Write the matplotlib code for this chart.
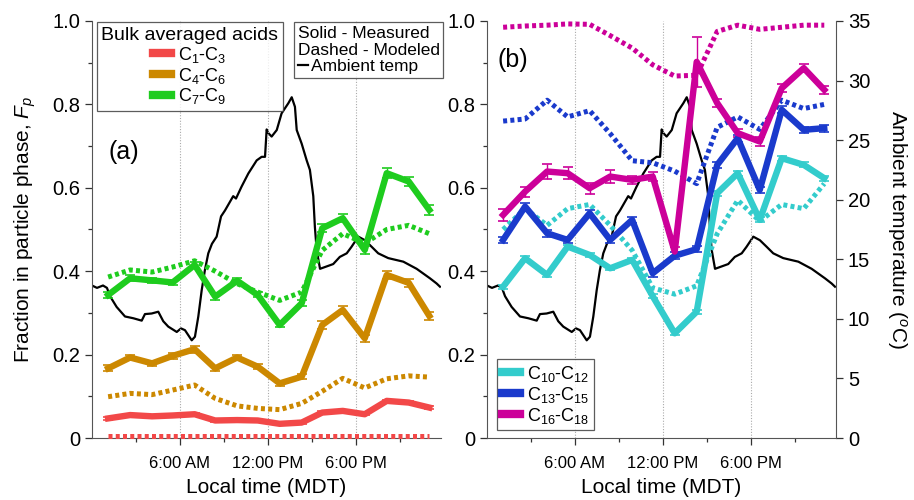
import matplotlib
matplotlib.use("Agg")
import matplotlib.pyplot as plt
from matplotlib.lines import Line2D
from matplotlib.ticker import MultipleLocator, FixedLocator

plt.rcParams['font.family'] = ['Liberation Sans', 'DejaVu Sans']
plt.rcParams['mathtext.fontset'] = 'custom'
plt.rcParams['mathtext.rm'] = 'Liberation Sans'
plt.rcParams['mathtext.it'] = 'Liberation Sans:italic'

# sample times, hours after midnight (MDT)
hours = [1.1, 2.6, 4.1, 5.5, 7.0, 8.4, 9.9, 11.3, 12.8, 14.3, 15.7, 17.1, 18.6, 20.1, 21.6, 23.0]

# panel (a) - bulk averaged acids, measured / modeled Fp
c1_meas = [0.047, 0.055, 0.052, 0.054, 0.057, 0.042, 0.043, 0.042, 0.034, 0.037, 0.061, 0.065, 0.057, 0.089, 0.085, 0.073]
c1_err = [0.003, 0.003, 0.003, 0.003, 0.003, 0.003, 0.003, 0.003, 0.003, 0.003, 0.003, 0.003, 0.003, 0.003, 0.003, 0.003]
c1_model = [0.005, 0.005, 0.005, 0.005, 0.005, 0.005, 0.005, 0.005, 0.005, 0.005, 0.005, 0.005, 0.005, 0.005, 0.005, 0.005]

c4_meas = [0.167, 0.193, 0.179, 0.197, 0.213, 0.167, 0.193, 0.171, 0.131, 0.147, 0.271, 0.307, 0.239, 0.391, 0.372, 0.293]
c4_err = [0.007, 0.007, 0.006, 0.007, 0.008, 0.006, 0.007, 0.006, 0.006, 0.006, 0.009, 0.010, 0.008, 0.010, 0.009, 0.010]
c4_model = [0.099, 0.107, 0.104, 0.115, 0.127, 0.095, 0.077, 0.071, 0.068, 0.083, 0.112, 0.143, 0.120, 0.142, 0.149, 0.146]

c7_meas = [0.343, 0.383, 0.378, 0.373, 0.415, 0.339, 0.377, 0.343, 0.271, 0.323, 0.503, 0.527, 0.451, 0.635, 0.615, 0.547]
c7_err = [0.008, 0.007, 0.006, 0.006, 0.008, 0.007, 0.006, 0.006, 0.006, 0.007, 0.010, 0.010, 0.009, 0.012, 0.010, 0.012]
c7_model = [0.386, 0.403, 0.398, 0.410, 0.425, 0.400, 0.370, 0.350, 0.330, 0.350, 0.450, 0.490, 0.467, 0.500, 0.510, 0.490]

# panel (b) - individual acids
c10_meas = [0.363, 0.431, 0.391, 0.459, 0.439, 0.407, 0.427, 0.340, 0.251, 0.303, 0.587, 0.635, 0.523, 0.671, 0.655, 0.623]
c10_err = [0.005, 0.005, 0.005, 0.005, 0.005, 0.005, 0.005, 0.005, 0.005, 0.005, 0.006, 0.006, 0.006, 0.006, 0.006, 0.006]
c10_model = [0.500, 0.550, 0.510, 0.550, 0.560, 0.510, 0.450, 0.360, 0.345, 0.365, 0.490, 0.570, 0.520, 0.560, 0.550, 0.610]

c13_meas = [0.475, 0.555, 0.491, 0.475, 0.539, 0.475, 0.523, 0.395, 0.437, 0.453, 0.655, 0.719, 0.595, 0.787, 0.739, 0.743]
c13_err = [0.008, 0.008, 0.008, 0.008, 0.008, 0.008, 0.008, 0.008, 0.008, 0.008, 0.008, 0.008, 0.008, 0.008, 0.008, 0.008]
c13_model = [0.760, 0.765, 0.810, 0.770, 0.785, 0.730, 0.665, 0.660, 0.640, 0.610, 0.745, 0.770, 0.740, 0.810, 0.790, 0.800]

c16_meas = [0.535, 0.591, 0.639, 0.635, 0.599, 0.627, 0.619, 0.627, 0.447, 0.902, 0.803, 0.731, 0.711, 0.839, 0.887, 0.835]
c16_err = [0.015, 0.012, 0.018, 0.015, 0.013, 0.015, 0.010, 0.010, 0.010, 0.060, 0.010, 0.010, 0.010, 0.010, 0.010, 0.010]
c16_model = [0.985, 0.988, 0.990, 0.993, 0.992, 0.965, 0.935, 0.895, 0.868, 0.870, 0.975, 0.990, 0.980, 0.985, 0.990, 0.990]

# ambient temperature trace (deg C)
temp_hours = [0.0, 0.34, 0.75, 1.02, 1.23, 1.68, 2.25, 2.82, 3.39, 3.61, 4.07, 4.52, 4.86, 5.2, 5.78,
              6.07, 6.34, 6.8, 7.02, 7.25, 7.48, 7.7, 7.93, 8.18, 8.5, 8.8, 9.07, 9.63, 9.82, 10.2,
              10.66, 11.23, 11.57, 11.8, 11.91, 12.02, 12.25, 12.6, 12.93, 13.39, 13.62, 13.84, 13.96,
              14.3, 14.64, 14.86, 15.09, 15.2, 15.32, 15.55, 16.0, 16.45, 16.9, 17.37, 17.7, 18.16,
              18.61, 19.07, 19.52, 20.2, 20.54, 21.23, 22.14, 23.05, 23.5, 23.73]
temp_c = [12.8, 12.6, 12.8, 12.6, 11.9, 11.0, 10.2, 10.05, 9.85, 10.4, 10.45, 10.6, 9.8, 9.35, 8.9,
          9.2, 9.05, 8.2, 8.5, 10.2, 12.4, 14.1, 15.5, 16.3, 16.9, 18.6, 19.1, 20.3, 20.1, 21.1,
          22.2, 23.3, 23.6, 23.6, 25.9, 25.6, 25.3, 25.85, 27.25, 28.1, 28.6, 27.8, 25.85,
          24.7, 23.3, 22.5, 20.3, 17.7, 15.8, 14.2, 14.4, 14.6, 15.2, 15.5, 16.05, 16.9,
          16.6, 16.05, 15.5, 15.1, 15.0, 14.8, 14.2, 13.4, 12.97, 12.7]

RED, ORANGE, GREEN = "#f24848", "#cc8800", "#1ecc1e"
CYAN, BLUE, MAGENTA = "#33cccc", "#1a3acc", "#cc0099"

MEAS_LW = 4.6
MOD_LW = 3.6
MOD_DASH = (0, (0.8, 0.65))


def draw_series(ax, y, err, model, color):
    ax.plot(hours, model, color=color, lw=MOD_LW, linestyle=MOD_DASH, zorder=3, clip_on=False)
    ax.errorbar(hours, y, yerr=err, color=color, lw=MEAS_LW, elinewidth=1.0,
                capsize=3.5, capthick=1.2, zorder=4)


def style_axes(ax):
    ax.set_xlim(0, 23.8)
    ax.set_ylim(0, 1.0)
    ax.xaxis.set_major_locator(FixedLocator([6, 12, 18]))
    ax.xaxis.set_minor_locator(FixedLocator([3, 9, 15, 21]))
    ax.set_xticklabels(["6:00 AM", "12:00 PM", "6:00 PM"], fontsize=12)
    ax.yaxis.set_minor_locator(MultipleLocator(0.1))
    ax.set_yticks([0, 0.2, 0.4, 0.6, 0.8, 1.0])
    ax.set_yticklabels(["0", "0.2", "0.4", "0.6", "0.8", "1.0"], fontsize=14.5)
    ax.tick_params(which="major", length=5, width=0.9, color="#333333")
    ax.tick_params(axis="x", which="major", pad=8)
    ax.tick_params(which="minor", length=3, width=0.9, color="#333333")
    for t in [6, 12, 18]:
        ax.axvline(t, color="#aaaaaa", lw=0.8, ls=(0, (1, 1.5)), zorder=0)
    ax.spines["top"].set_visible(False)
    ax.spines["right"].set_visible(False)
    ax.spines["left"].set_color("#555555")
    ax.spines["bottom"].set_color("#555555")
    ax.set_xlabel("Local time (MDT)", fontsize=15, labelpad=5)


fig = plt.figure(figsize=(9.14, 5.0), dpi=100)
ax_a = fig.add_axes([92 / 914, 62 / 500, 349 / 914, 417 / 500])
ax_b = fig.add_axes([487 / 914, 62 / 500, 349 / 914, 417 / 500])

# temperature on twin axes, drawn under the acid series
tw_a = ax_a.twinx()
tw_b = ax_b.twinx()
for ax, tw in [(ax_a, tw_a), (ax_b, tw_b)]:
    tw.plot(temp_hours, temp_c, color="black", lw=1.6)
    tw.set_ylim(0, 35)
    ax.set_zorder(tw.get_zorder() + 1)
    ax.patch.set_visible(False)

tw_a.axis("off")
tw_b.set_yticks(range(0, 36, 5))
tw_b.tick_params(length=5, width=0.9, color="#333333", labelsize=14.5)
tw_b.spines["top"].set_visible(False)
tw_b.spines["left"].set_visible(False)
tw_b.spines["bottom"].set_visible(False)
tw_b.spines["right"].set_color("#555555")
tw_b.set_ylabel(r"Ambient temperature ($^{o}$C)", fontsize=15, rotation=-90, labelpad=28)

# panel (a)
draw_series(ax_a, c1_meas, c1_err, c1_model, RED)
draw_series(ax_a, c4_meas, c4_err, c4_model, ORANGE)
draw_series(ax_a, c7_meas, c7_err, c7_model, GREEN)
style_axes(ax_a)
ax_a.set_ylabel(r"Fraction in particle phase, $\it{F_p}$", fontsize=15, labelpad=10)
ax_a.text(0.092, 0.686, "(a)", transform=ax_a.transAxes, fontsize=18, ha="center", va="center")

h_a = [Line2D([], [], color=c, lw=6) for c in (RED, ORANGE, GREEN)]
leg1 = ax_a.legend(h_a, ["C$_1$-C$_3$", "C$_4$-C$_6$", "C$_7$-C$_9$"],
                   title="Bulk averaged acids", title_fontsize=14, fontsize=13,
                   loc="upper left", bbox_to_anchor=(0.014, 0.997),
                   frameon=True, fancybox=False, edgecolor="#333333",
                   handlelength=1.0, handletextpad=0.4, labelspacing=0.05,
                   borderpad=0.25, borderaxespad=0)
leg1.get_frame().set_linewidth(0.9)
ax_a.add_artist(leg1)

leg2 = ax_a.legend([Line2D([], [], color="black", lw=1.6)], ["Ambient temp"],
                   title="Solid - Measured\nDashed - Modeled", title_fontsize=12.5, fontsize=12.5,
                   alignment="left", loc="upper right", bbox_to_anchor=(1.006, 0.997),
                   frameon=True, fancybox=False, edgecolor="#333333",
                   handlelength=0.6, handletextpad=0.15, labelspacing=0.05,
                   borderpad=0.2, borderaxespad=0)
leg2.get_frame().set_linewidth(0.9)
leg2.set_zorder(10)

# panel (b)
draw_series(ax_b, c10_meas, c10_err, c10_model, CYAN)
draw_series(ax_b, c13_meas, c13_err, c13_model, BLUE)
draw_series(ax_b, c16_meas, c16_err, c16_model, MAGENTA)
style_axes(ax_b)
ax_b.text(0.075, 0.906, "(b)", transform=ax_b.transAxes, fontsize=18, ha="center", va="center")

h_b = [Line2D([], [], color=c, lw=6) for c in (CYAN, BLUE, MAGENTA)]
leg3 = ax_b.legend(h_b, ["C$_{10}$-C$_{12}$", "C$_{13}$-C$_{15}$", "C$_{16}$-C$_{18}$"],
                   fontsize=13, loc="lower left", bbox_to_anchor=(0.029, 0.019),
                   frameon=True, fancybox=False, edgecolor="#333333",
                   handlelength=1.0, handletextpad=0.4, labelspacing=0.05,
                   borderpad=0.25, borderaxespad=0)
leg3.get_frame().set_linewidth(0.9)

fig.savefig("out.png", dpi=100, facecolor="white")
